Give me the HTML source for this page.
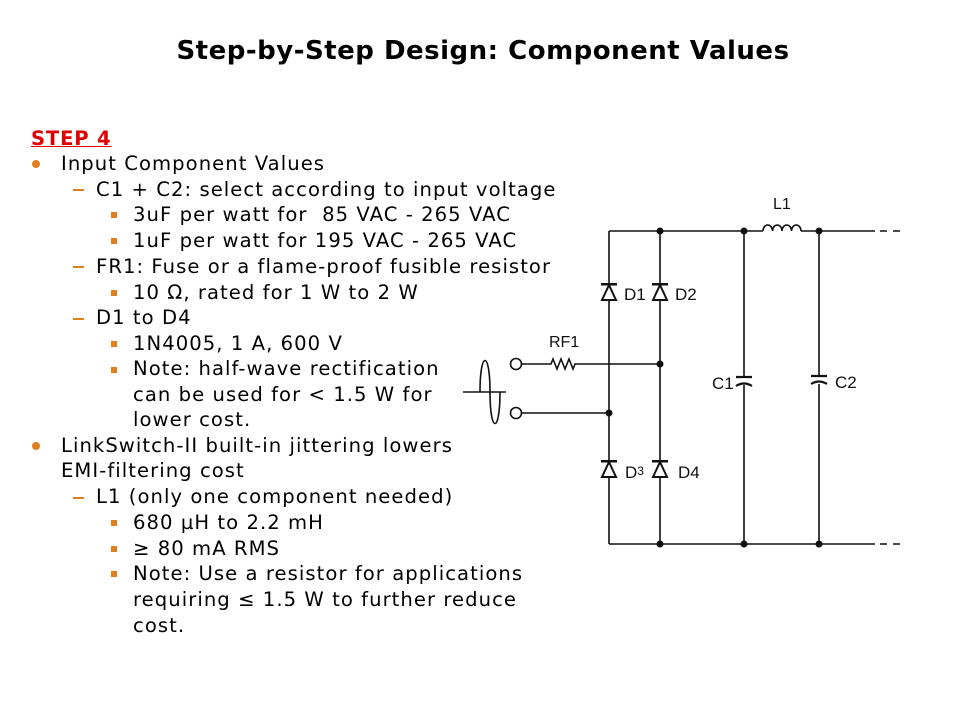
<!DOCTYPE html>
<html><head><meta charset="utf-8"><style>
body{margin:0;background:#fff;}
#p{position:relative;width:960px;height:720px;overflow:hidden;font-family:"DejaVu Sans","Liberation Sans",sans-serif;}
.t{position:absolute;left:0;width:966px;text-align:center;top:36px;font:bold 26px "DejaVu Sans","Liberation Sans",sans-serif;letter-spacing:0.5px;color:#000;}
.l{position:absolute;font-size:19.6px;letter-spacing:1.05px;color:#000;white-space:nowrap;line-height:22px;}
.b{position:absolute;width:8px;height:8px;border-radius:50%;background:#e07f1f;}
.d{position:absolute;width:11px;height:2px;background:#e07f1f;}
.s{position:absolute;width:6px;height:6px;background:#e07f1f;}
</style></head><body><div id="p">
<div class="t">Step-by-Step Design: Component Values</div>
<div class="l" style="left:31px;top:128px;color:#e00000;font-weight:bold;text-decoration:underline;letter-spacing:0.8px">STEP 4</div>
<div class="b" style="left:32px;top:160px"></div><div class="l" style="left:61px;top:153px">Input Component Values</div>
<div class="d" style="left:73px;top:189px"></div><div class="l" style="left:96px;top:179px">C1 + C2: select according to input voltage</div>
<div class="s" style="left:111px;top:212px"></div><div class="l" style="left:133px;top:204px">3uF per watt for &nbsp;85 VAC - 265 VAC</div>
<div class="s" style="left:111px;top:238px"></div><div class="l" style="left:133px;top:230px">1uF per watt for 195 VAC - 265 VAC</div>
<div class="d" style="left:73px;top:266px"></div><div class="l" style="left:96px;top:256px">FR1: Fuse or a flame-proof fusible resistor</div>
<div class="s" style="left:111px;top:290px"></div><div class="l" style="left:133px;top:282px">10 Ω, rated for 1 W to 2 W</div>
<div class="d" style="left:73px;top:318px"></div><div class="l" style="left:96px;top:307px">D1 to D4</div>
<div class="s" style="left:111px;top:341px"></div><div class="l" style="left:133px;top:333px">1N4005, 1 A, 600 V</div>
<div class="s" style="left:111px;top:367px"></div><div class="l" style="left:133px;top:358px">Note: half-wave rectification</div>
<div class="l" style="left:133px;top:384px">can be used for &lt; 1.5 W for</div>
<div class="l" style="left:133px;top:409px">lower cost.</div>
<div class="b" style="left:32px;top:442px"></div><div class="l" style="left:61px;top:435px">LinkSwitch-II built-in jittering lowers</div>
<div class="l" style="left:61px;top:460px">EMI-filtering cost</div>
<div class="d" style="left:73px;top:497px"></div><div class="l" style="left:96px;top:486px">L1 (only one component needed)</div>
<div class="s" style="left:111px;top:520px"></div><div class="l" style="left:133px;top:512px">680 µH to 2.2 mH</div>
<div class="s" style="left:111px;top:546px"></div><div class="l" style="left:133px;top:538px">≥ 80 mA RMS</div>
<div class="s" style="left:111px;top:571px"></div><div class="l" style="left:133px;top:563px">Note: Use a resistor for applications</div>
<div class="l" style="left:133px;top:589px">requiring ≤ 1.5 W to further reduce</div>
<div class="l" style="left:133px;top:615px">cost.</div>
<svg width="960" height="720" style="position:absolute;left:0;top:0" stroke="#111" stroke-width="1.6" fill="none" font-family="Liberation Sans,sans-serif">
<path d="M609 231H763M801 231H875M880 231h7M893 231h7M609 544H875M880 544h7M893 544h7"/>
<path d="M609 231V544M660 231V544M744 231V377M744 385V544M819 231V376M819 384V544"/>
<path d="M763 231a4.75 6 0 0 1 9.5 0a4.75 6 0 0 1 9.5 0a4.75 6 0 0 1 9.5 0a4.75 6 0 0 1 9.5 0"/>
<path d="M522 364H551l2-5 4 10 4-10 4 10 4-10 4 10 2-5H660M522 413H609"/>
<circle cx="516" cy="364" r="5.5" fill="#fff"/><circle cx="516" cy="413" r="5.5" fill="#fff"/>
<path d="M463 392H506M480 392C480 350 490 350 490 392C490 434 500 434 500 392"/>
<path d="M736 377h16M736 386q8-5 16 0M811 376h16M811 384q8-5 16 0" stroke-width="2.2"/>
<g fill="#fff" stroke-width="2">
<path d="M609 285l-7 15h14zM660 285l-7 15h14zM609 462l-7 15h14zM660 462l-7 15h14z"/>
</g>
<g fill="#111" stroke="none">
<rect x="601" y="283" width="16" height="2.5"/><rect x="652" y="283" width="16" height="2.5"/>
<rect x="601" y="460" width="16" height="2.5"/><rect x="652" y="460" width="16" height="2.5"/>
<circle cx="660" cy="231" r="3.5"/><circle cx="744" cy="231" r="3.5"/><circle cx="819" cy="231" r="3.5"/>
<circle cx="660" cy="544" r="3.5"/><circle cx="744" cy="544" r="3.5"/><circle cx="819" cy="544" r="3.5"/>
<circle cx="660" cy="364" r="3.5"/><circle cx="609" cy="413" r="3.5"/>
<text x="624" y="300" font-size="17">D1</text><text x="675" y="300" font-size="17">D2</text>
<text x="625" y="478" font-size="17">D<tspan font-size="12" dy="-3">3</tspan></text><text x="678" y="478" font-size="17">D4</text>
<text x="549" y="347" font-size="16">RF1</text><text x="773" y="209" font-size="16">L1</text>
<text x="712" y="389" font-size="17">C1</text><text x="835" y="388" font-size="17">C2</text>
</g></svg>
</div></body></html>
